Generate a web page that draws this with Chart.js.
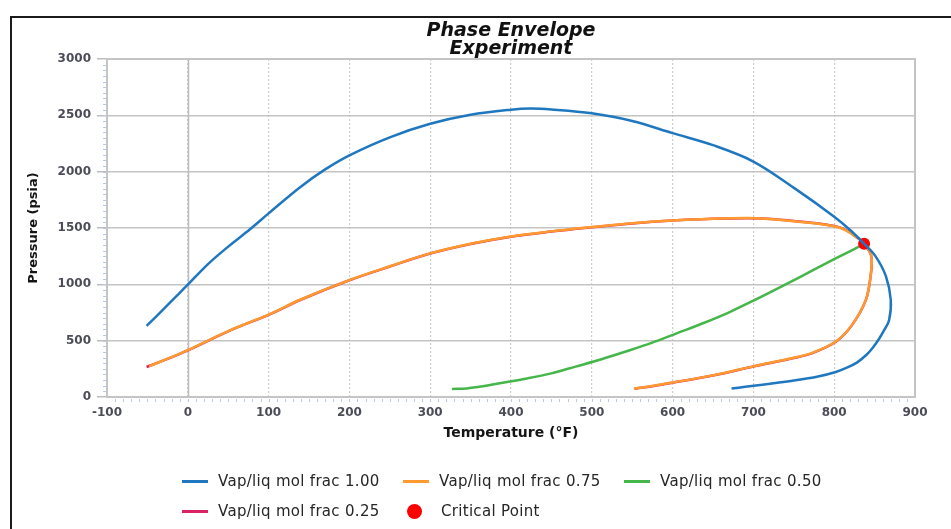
<!DOCTYPE html>
<html>
<head>
<meta charset="utf-8">
<script src="https://cdn.jsdelivr.net/npm/chart.js@4.4.1/dist/chart.umd.min.js"></script>
<style>
  html, body { margin: 0; padding: 0; background: #fff; }
  #wrap { position: relative; width: 951px; height: 529px; overflow: hidden; background: #fff; }
  #frame { position: absolute; left: 10px; top: 16px; width: 960px; height: 540px;
           border-top: 2px solid #1b1b1b; border-left: 2px solid #1b1b1b; box-sizing: border-box; }
  #chart { position: absolute; left: 0; top: 0; }
  #legend { position: absolute; left: 0; top: 0; width: 951px; height: 529px; pointer-events: none;
            font-family: "DejaVu Sans", sans-serif; font-size: 15px; letter-spacing: 0.3px; color: #262626; }
  .item { position: absolute; display: flex; align-items: center; height: 20px; white-space: nowrap; }
  .swatch { width: 26px; height: 3px; margin-right: 10px; }
  .dot { width: 15px; height: 15px; border-radius: 50%; margin: 0 19px 0 4px; }
</style>
</head>
<body>
<div id="wrap">
  <canvas id="chart" width="951" height="529"></canvas>
  <div id="frame"></div>
  <div id="legend"></div>
</div>
<script>
// Phase envelope curves: temperature (°F) and pressure (psia) pairs
const frac100T = [-51, -30, -10, 0, 25, 50, 77, 100, 139, 170, 200, 250, 300, 350, 400, 424, 450, 500, 550, 600, 650, 700, 752, 800, 820, 837,
                  851, 864, 870, 868, 862, 855, 848, 840, 828, 815, 802, 780, 752, 711, 690, 673];
const frac100P = [631, 780, 925, 997, 1180, 1335, 1489, 1630, 1862, 2020, 2145, 2305, 2425, 2505, 2550, 2560, 2552, 2518, 2450, 2342, 2235, 2090, 1847, 1600, 1480, 1360,
                  1250, 1072, 863, 684, 595, 510, 440, 375, 305, 258, 222, 182, 148, 109, 90, 75];

const frac075T = [-48, -25, 0, 50, 102, 139, 200, 250, 300, 350, 400, 450, 500, 550, 600, 650, 690, 711, 750, 806, 831, 839,
                  846, 845, 839, 822, 802, 773, 750, 700, 650, 600, 575, 552];
const frac075P = [273, 340, 416, 585, 738, 863, 1038, 1160, 1275, 1360, 1425, 1470, 1508, 1543, 1567, 1582, 1588, 1585, 1560, 1504, 1400, 1340,
                  1250, 1072, 860, 640, 492, 392, 348, 272, 192, 128, 98, 75];

const frac050T = [327, 345, 365, 388, 420, 450, 480, 512, 545, 574, 605, 636, 670, 698, 740, 775, 800, 820, 837];
const frac050P = [72, 76, 95, 125, 165, 210, 270, 335, 410, 480, 565, 650, 752, 848, 1000, 1130, 1223, 1295, 1360];

const frac025T = [-51, -25, 0, 50, 102, 139, 200, 250, 300, 350, 400, 450, 500, 550, 600, 650, 690, 711, 750, 806, 831, 838,
                  846, 845, 839, 822, 802, 773, 750, 700, 650, 600, 575, 553];
const frac025P = [266, 338, 414, 583, 736, 861, 1036, 1158, 1273, 1358, 1423, 1468, 1506, 1541, 1566, 1581, 1587, 1584, 1562, 1508, 1405, 1350,
                  1248, 1070, 858, 638, 490, 390, 346, 270, 190, 126, 96, 74];

const criticalT = [837];
const criticalP = [1360];

// Axis ranges and tick steps
const tempRange = [-100, 900];
const tempStep = 100;
const pressRange = [0, 3000];
const pressStep = 500;

const seriesNames = ['Vap/liq mol frac 1.00', 'Vap/liq mol frac 0.75', 'Vap/liq mol frac 0.50', 'Vap/liq mol frac 0.25', 'Critical Point'];
const seriesColors = ['#1f77c0', '#ff9a2e', '#45b649', '#dc2266', '#ff0000'];

const toPoints = (xs, ys) => xs.map((x, i) => ({ x: x, y: ys[i] }));

function curve(idx, xs, ys, order) {
  return {
    label: seriesNames[idx],
    data: toPoints(xs, ys),
    showLine: true,
    borderColor: seriesColors[idx],
    backgroundColor: seriesColors[idx],
    borderWidth: 2.5,
    pointRadius: 0,
    pointHoverRadius: 0,
    tension: 0.35,
    fill: false,
    order: order
  };
}

const datasets = [
  curve(0, frac100T, frac100P, 0),
  curve(1, frac075T, frac075P, 2),
  curve(2, frac050T, frac050P, 3),
  curve(3, frac025T, frac025P, 4),
  {
    label: seriesNames[4],
    data: toPoints(criticalT, criticalP),
    showLine: false,
    pointRadius: 6,
    pointBackgroundColor: seriesColors[4],
    pointBorderWidth: 0,
    backgroundColor: seriesColors[4],
    borderColor: seriesColors[4],
    order: 1
  }
];

// Plot frame, zero line and the small minor ticks along both axes
const plotDecor = {
  id: 'plotDecor',
  beforeDatasetsDraw(chart) {
    const { ctx, chartArea: a, scales: { x, y } } = chart;
    ctx.save();
    ctx.strokeStyle = '#bdbdbd';
    ctx.lineWidth = 1.5;
    const zx = Math.round(x.getPixelForValue(0)) + 0.5;
    ctx.beginPath();
    ctx.moveTo(zx, a.top);
    ctx.lineTo(zx, a.bottom);
    ctx.stroke();
    ctx.strokeStyle = '#c4c4c4';
    ctx.lineWidth = 2;
    ctx.strokeRect(a.left, a.top, a.right - a.left, a.bottom - a.top);
    ctx.strokeStyle = '#b3cbe6';
    ctx.lineWidth = 1;
    ctx.beginPath();
    for (let t = tempRange[0] + 10; t < tempRange[1]; t += 10) {
      const px = Math.round(x.getPixelForValue(t)) + 0.5;
      ctx.moveTo(px, a.bottom + 2);
      ctx.lineTo(px, a.bottom + 5);
    }
    for (let p = pressRange[0] + 50; p < pressRange[1]; p += 50) {
      const py = Math.round(y.getPixelForValue(p)) + 0.5;
      ctx.moveTo(a.left - 4, py);
      ctx.lineTo(a.left - 1, py);
    }
    ctx.stroke();
    ctx.restore();
  }
};

const tickFont = { family: 'DejaVu Sans', size: 12, weight: 'bold' };

const chart = new Chart(document.getElementById('chart'), {
  type: 'scatter',
  data: { datasets: datasets },
  options: {
    responsive: false,
    animation: false,
    layout: { padding: { top: 20, left: 20, right: 36, bottom: 82 } },
    plugins: {
      legend: { display: false },
      tooltip: { enabled: false },
      title: {
        display: true,
        fullSize: false,
        text: ['Phase Envelope', 'Experiment'],
        color: '#111',
        font: { family: 'DejaVu Sans', size: 19, weight: 'bold', style: 'italic', lineHeight: '18px' },
        padding: { top: 2, bottom: 1 }
      }
    },
    scales: {
      x: {
        type: 'linear',
        min: tempRange[0],
        max: tempRange[1],
        afterFit(scale) { scale.height = 50; },
        ticks: { stepSize: tempStep, color: '#4c4c58', font: tickFont, padding: 9, maxRotation: 0,
                 callback: v => String(v) },
        grid: { color: '#cdcdcd', lineWidth: 1.2, drawTicks: false },
        border: { display: false, dash: [2, 2] },
        title: {
          display: true, text: 'Temperature (°F)', color: '#141414',
          font: { family: 'DejaVu Sans', size: 14, weight: 'bold' },
          padding: { top: 0, bottom: 5 }
        }
      },
      y: {
        type: 'linear',
        min: pressRange[0],
        max: pressRange[1],
        afterFit(scale) { scale.width = 87; },
        ticks: { stepSize: pressStep, color: '#4c4c58', font: tickFont, padding: 6,
                 callback: v => String(v) },
        grid: { color: '#c4c4c4', lineWidth: 1.5, drawTicks: true, tickLength: 10, tickColor: '#bdbdbd' },
        border: { display: false },
        title: {
          display: true, text: 'Pressure (psia)', color: '#141414',
          font: { family: 'DejaVu Sans', size: 13, weight: 'bold' },
          padding: { top: 6, bottom: 0 }
        }
      }
    }
  },
  plugins: [plotDecor]
});

// Legend laid out in two rows under the plot
const legendSlots = [[182, 481], [403, 481], [624, 481], [182, 511], [403, 511]];
const legendEl = document.getElementById('legend');
chart.data.datasets.forEach((ds, i) => {
  const item = document.createElement('div');
  item.className = 'item';
  item.style.left = legendSlots[i][0] + 'px';
  item.style.top = (legendSlots[i][1] - 10) + 'px';
  const mark = document.createElement('span');
  mark.className = ds.showLine ? 'swatch' : 'dot';
  mark.style.background = ds.showLine ? ds.borderColor : ds.pointBackgroundColor;
  const label = document.createElement('span');
  label.textContent = ds.label;
  item.appendChild(mark);
  item.appendChild(label);
  legendEl.appendChild(item);
});
</script>
</body>
</html>
